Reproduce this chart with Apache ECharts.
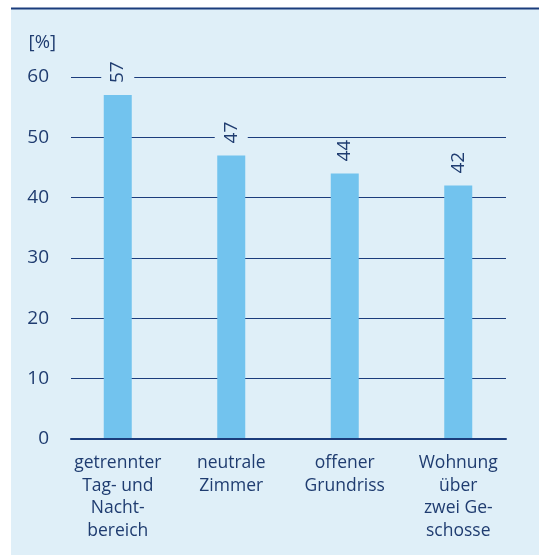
<!DOCTYPE html>
<html>
<head>
<meta charset="utf-8">
<script src="https://cdn.jsdelivr.net/npm/echarts@6/dist/echarts.min.js"></script>
<style>
  html, body { margin: 0; padding: 0; background: #ffffff; }
  #chart { width: 539px; height: 555px; }
</style>
</head>
<body>
<div id="chart"></div>
<script>
// Anteil der Nennungen je Wohnungsmerkmal
const categories = [
  'getrennter\nTag- und\nNacht-\nbereich',
  'neutrale\nZimmer',
  'offener\nGrundriss',
  'Wohnung\nüber\nzwei Ge-\nschosse'
];
const values = [57, 47, 44, 42];
const yTicks = { min: 0, max: 60, interval: 10 };
const unitLabel = '[%]';

const panel = '#dfeff8';
const navy = '#1b3c7c';
const textColor = '#1f3c70';
const barColor = '#72c3ee';
const font = 'Open Sans';

const chart = echarts.init(document.getElementById('chart'), null, { renderer: 'canvas' });

chart.setOption({
  animation: false,
  backgroundColor: '#ffffff',
  textStyle: { fontFamily: font },
  graphic: [
    { type: 'rect', z: -10, shape: { x: 11, y: 8, width: 528, height: 547 }, style: { fill: panel } },
    { type: 'rect', z: -9, shape: { x: 11, y: 7.5, width: 528, height: 2 }, style: { fill: navy } }
  ],
  grid: [
    { left: 71, right: 33, top: 77, bottom: 116 },
    { left: 61, right: 24, top: 77, bottom: 116 }
  ],
  xAxis: [
    {
      gridIndex: 0, type: 'category', data: categories, z: 5,
      axisLine: { show: true, lineStyle: { color: navy, width: 2 } },
      axisTick: { show: false }, axisLabel: { show: false }, splitLine: { show: false }
    },
    {
      gridIndex: 1, type: 'category', data: categories,
      axisLine: { show: false }, axisTick: { show: false },
      axisLabel: {
        margin: 13, color: textColor, fontSize: 17.5, lineHeight: 22.5,
        fontFamily: font, interval: 0
      }
    }
  ],
  yAxis: [
    {
      gridIndex: 0, type: 'value', min: yTicks.min, max: yTicks.max, interval: yTicks.interval,
      name: unitLabel, nameLocation: 'end', nameGap: 25,
      nameTextStyle: { color: textColor, fontSize: 18.5, align: 'right', padding: [0, 15, 0, 0], fontFamily: font },
      axisLine: { show: false }, axisTick: { show: false },
      axisLabel: { color: textColor, fontSize: 19, margin: 22, fontFamily: font },
      splitLine: { show: true, lineStyle: { color: navy, width: 1 } }
    },
    {
      gridIndex: 1, type: 'value', min: yTicks.min, max: yTicks.max, interval: yTicks.interval,
      show: false, splitLine: { show: false }
    }
  ],
  series: [{
    type: 'bar',
    xAxisIndex: 1, yAxisIndex: 1,
    data: values,
    barWidth: 28,
    itemStyle: { color: barColor },
    label: {
      show: true,
      position: 'top',
      distance: 12,
      rotate: 90,
      align: 'left',
      verticalAlign: 'middle',
      color: textColor,
      fontSize: 19,
      fontFamily: font,
      backgroundColor: panel,
      padding: [7, 0, 7, 0]
    }
  }]
});
</script>
</body>
</html>
